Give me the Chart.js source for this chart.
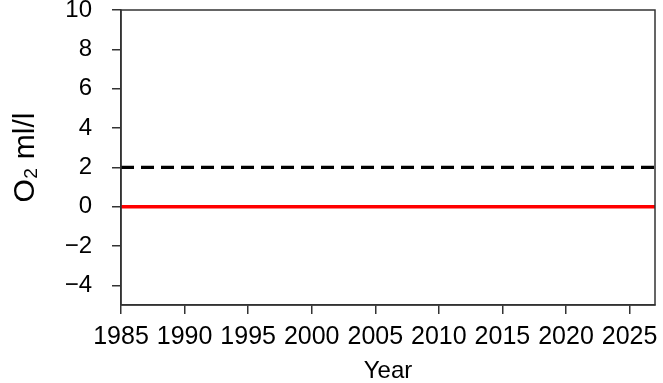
<!DOCTYPE html>
<html>
<head>
<meta charset="utf-8">
<script src="https://cdn.jsdelivr.net/npm/chart.js@4"></script>
<style>
  html, body { margin: 0; padding: 0; background: #fff; }
  #wrap { width: 663px; height: 383px; }
</style>
</head>
<body>
<div id="wrap"><canvas id="o2"></canvas></div>
<script>
var years = [1985, 2027];
var limitValues = [2, 2];
var zeroValues = [0, 0];
var xTicks = [1985, 1990, 1995, 2000, 2005, 2010, 2015, 2020, 2025];
var yTicks = [-4, -2, 0, 2, 4, 6, 8, 10];

function toPoints(xs, ys) {
	var pts = [];
	for (let i = 0; i < xs.length; i++) pts.push({x: xs[i], y: ys[i]});
	return pts;
}

// box round the plot area like the reference
var frame = {
	id: 'frame',
	afterDraw: function(chart) {
		var a = chart.chartArea, ctx = chart.ctx;
		ctx.save();
		ctx.strokeStyle = '#333';
		ctx.lineWidth = 1.5;
		ctx.strokeRect(a.left, a.top, a.right - a.left, a.bottom - a.top);
		ctx.restore();
	}
};

var family = "'Liberation Sans', Arial, sans-serif";

new Chart("o2", {
	type: "line",
	data: {
		datasets: [{
			label: 'limit',
			data: toPoints(years, limitValues),
			borderColor: "black",
			borderWidth: 3.3,
			borderDash: [13, 7],
			pointRadius: 0,
			fill: false
		}, {
			label: 'zero',
			data: toPoints(years, zeroValues),
			borderColor: "#ff0000",
			borderWidth: 3.5,
			pointRadius: 0,
			fill: false
		}]
	},
	options: {
		responsive: true,
		maintainAspectRatio: false,
		animation: false,
		layout: {padding: {top: 10, right: 8, left: 0, bottom: 0}},
		plugins: {legend: {display: false}, tooltip: {enabled: false}},
		scales: {
			x: {
				type: 'linear',
				min: 1985,
				max: 2027,
				afterBuildTicks: function(s) { s.ticks = xTicks.map(v => ({value: v})); },
				afterFit: function(s) { s.height = 78; s.paddingLeft = 0; s.paddingRight = 0; },
				ticks: {color: 'black', font: {family: family, size: 25}, padding: 8, maxRotation: 0, autoSkip: false,
					callback: v => String(v)},
				grid: {drawOnChartArea: false, drawTicks: true, tickLength: 9, color: '#333', lineWidth: 1.5},
				border: {display: true, color: '#333', width: 1.5},
				title: {display: true, text: 'Year', color: 'black', font: {family: family, size: 24}, padding: {top: 0, bottom: -3}}
			},
			y: {
				min: -5,
				max: 10,
				afterBuildTicks: function(s) { s.ticks = yTicks.map(v => ({value: v})); },
				afterFit: function(s) { s.width = 121; s.paddingTop = 0; s.paddingBottom = 0; },
				ticks: {color: 'black', font: {family: family, size: 24}, padding: 20,
					callback: v => (v < 0 ? '\u2212' + Math.abs(v) : String(v))},
				grid: {drawOnChartArea: false, drawTicks: true, tickLength: 9, color: '#333', lineWidth: 1.5},
				border: {display: true, color: '#333', width: 1.5},
				title: {display: true, text: 'O\u2082 ml/l', color: 'black', font: {family: family, size: 30}, padding: {top: 8, bottom: 4}}
			}
		}
	},
	plugins: [frame]
});
</script>
</body>
</html>
